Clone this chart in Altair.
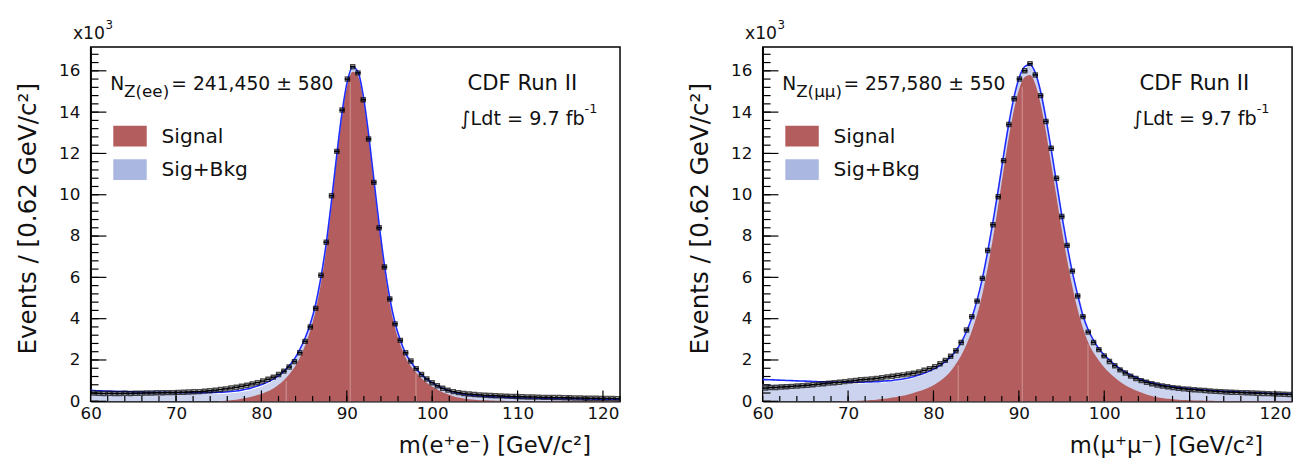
import altair as alt
import pandas as pd

FONT = "DejaVu Sans"
INK = "#111111"
W, H = 538, 360
YMAX = 17.15
BIN = 0.62

# bin centres of the 100 mass bins (60-122 GeV, 0.62 GeV wide) and curve sampling points
centers = [round(60 + BIN * (i + 0.5), 3) for i in range(100)]
curve_x = [60.0] + centers + [122.0]

x_major = [60, 70, 80, 90, 100, 110, 120]
x_minor = [60 + 2 * k for k in range(32)]
y_major = [0, 2, 4, 6, 8, 10, 12, 14, 16]
y_minor = [round(0.4 * k, 1) for k in range(43)]
seams = [82.9, 90.4, 98.1]

# ---------------- Z -> ee (values in thousands of events / bin) ----------------
data_ee = [
    0.40, 0.39, 0.38, 0.39, 0.38, 0.38, 0.39, 0.38, 0.39, 0.39,
    0.40, 0.40, 0.41, 0.41, 0.42, 0.42, 0.43, 0.44, 0.45, 0.46,
    0.47, 0.49, 0.51, 0.54, 0.57, 0.60, 0.64, 0.68, 0.73, 0.78,
    0.84, 0.90, 0.98, 1.07, 1.17, 1.30, 1.46, 1.66, 1.92, 2.35,
    2.90, 3.60, 4.50, 6.10, 7.70, 9.95, 12.10, 14.10, 15.60, 16.20,
    15.90, 14.60, 12.70, 10.60, 8.40, 6.50, 4.95, 3.75, 2.95, 2.35,
    1.95, 1.58, 1.30, 1.08, 0.90, 0.75, 0.63, 0.54, 0.47, 0.42,
    0.38, 0.35, 0.33, 0.31, 0.29, 0.28, 0.27, 0.26, 0.25, 0.24,
    0.23, 0.22, 0.21, 0.21, 0.20, 0.19, 0.19, 0.18, 0.18, 0.17,
    0.17, 0.16, 0.16, 0.15, 0.15, 0.15, 0.14, 0.14, 0.14, 0.13,
]
fit_ee = [0.53,
    0.52, 0.51, 0.50, 0.49, 0.48, 0.47, 0.47, 0.46, 0.45, 0.45,
    0.44, 0.44, 0.43, 0.43, 0.43, 0.42, 0.42, 0.42, 0.42, 0.42,
    0.42, 0.42, 0.43, 0.43, 0.44, 0.45, 0.47, 0.50, 0.54, 0.59,
    0.66, 0.74, 0.83, 0.94, 1.07, 1.24, 1.45, 1.72, 2.05, 2.50,
    3.05, 3.75, 4.70, 6.00, 7.65, 9.70, 11.95, 14.00, 15.50, 16.20,
    15.95, 14.80, 12.95, 10.75, 8.55, 6.60, 5.00, 3.80, 2.95, 2.32,
    1.90, 1.56, 1.29, 1.07, 0.90, 0.75, 0.63, 0.53, 0.45, 0.39,
    0.34, 0.31, 0.28, 0.26, 0.24, 0.22, 0.21, 0.20, 0.19, 0.18,
    0.17, 0.16, 0.16, 0.15, 0.15, 0.14, 0.14, 0.13, 0.13, 0.12,
    0.12, 0.12, 0.11, 0.11, 0.11, 0.10, 0.10, 0.10, 0.10, 0.10,
    0.10]
sigbkg_ee = [0.40,
    0.40, 0.40, 0.39, 0.39, 0.38, 0.38, 0.38, 0.37, 0.37, 0.37,
    0.36, 0.36, 0.36, 0.36, 0.36, 0.35, 0.35, 0.35, 0.35, 0.35,
    0.35, 0.35, 0.35, 0.35, 0.36, 0.37, 0.39, 0.41, 0.45, 0.50,
    0.56, 0.64, 0.73, 0.85, 0.99, 1.17, 1.39, 1.66, 2.00, 2.45,
    3.00, 3.70, 4.65, 5.95, 7.60, 9.65, 11.90, 13.95, 15.45, 16.10,
    15.90, 14.75, 12.90, 10.70, 8.50, 6.55, 4.95, 3.75, 2.90, 2.27,
    1.85, 1.51, 1.24, 1.02, 0.85, 0.71, 0.59, 0.50, 0.42, 0.36,
    0.31, 0.27, 0.24, 0.22, 0.20, 0.18, 0.17, 0.16, 0.15, 0.14,
    0.13, 0.12, 0.12, 0.11, 0.11, 0.10, 0.10, 0.09, 0.09, 0.08,
    0.08, 0.08, 0.07, 0.07, 0.07, 0.06, 0.06, 0.06, 0.06, 0.06,
    0.06]
sig_ee = [0.0,
    0.0, 0.0, 0.0, 0.0, 0.0, 0.0, 0.0, 0.0, 0.0, 0.0,
    0.0, 0.0, 0.0, 0.0, 0.0, 0.0, 0.0, 0.0, 0.0, 0.0,
    0.0, 0.0, 0.0, 0.0, 0.01, 0.03, 0.05, 0.08, 0.12, 0.17,
    0.23, 0.30, 0.38, 0.48, 0.62, 0.80, 1.02, 1.30, 1.65, 2.10,
    2.70, 3.45, 4.40, 5.70, 7.35, 9.45, 11.75, 13.80, 15.30, 15.95,
    15.75, 14.60, 12.75, 10.55, 8.35, 6.40, 4.75, 3.55, 2.72, 2.12,
    1.70, 1.38, 1.12, 0.90, 0.72, 0.57, 0.44, 0.34, 0.25, 0.18,
    0.13, 0.095, 0.07, 0.055, 0.045, 0.035, 0.03, 0.025, 0.02, 0.02,
    0.02, 0.02, 0.015, 0.015, 0.015, 0.01, 0.01, 0.01, 0.01, 0.01,
    0.01, 0.01, 0.01, 0.01, 0.01, 0.01, 0.01, 0.01, 0.01, 0.01,
    0.01]

# ---------------- Z -> mumu ----------------
data_mm = [
    0.64, 0.66, 0.67, 0.69, 0.70, 0.72, 0.74, 0.76, 0.78, 0.80,
    0.83, 0.85, 0.88, 0.90, 0.92, 0.95, 0.98, 1.01, 1.04, 1.06,
    1.08, 1.11, 1.14, 1.18, 1.21, 1.25, 1.28, 1.32, 1.36, 1.42,
    1.50, 1.58, 1.68, 1.82, 1.98, 2.18, 2.45, 2.85, 3.45, 4.10,
    4.85, 5.95, 7.30, 8.55, 9.90, 11.65, 13.40, 14.65, 15.60, 16.00,
    16.35, 15.80, 14.80, 13.55, 12.25, 10.80, 8.95, 7.55, 6.30, 5.10,
    4.10, 3.35, 2.85, 2.50, 2.20, 1.93, 1.72, 1.52, 1.37, 1.22,
    1.10, 1.00, 0.92, 0.85, 0.79, 0.74, 0.70, 0.66, 0.63, 0.60,
    0.58, 0.56, 0.54, 0.52, 0.50, 0.48, 0.47, 0.45, 0.44, 0.43,
    0.42, 0.41, 0.40, 0.39, 0.38, 0.37, 0.36, 0.35, 0.34, 0.33,
]
fit_mm = [1.06,
    1.05, 1.04, 1.03, 1.02, 1.01, 1.00, 0.99, 0.98, 0.97, 0.96,
    0.95, 0.94, 0.93, 0.93, 0.92, 0.92, 0.92, 0.92, 0.92, 0.93,
    0.94, 0.95, 0.97, 0.99, 1.01, 1.04, 1.08, 1.13, 1.19, 1.27,
    1.36, 1.46, 1.58, 1.73, 1.92, 2.15, 2.45, 2.85, 3.38, 4.05,
    4.90, 5.95, 7.25, 8.70, 10.25, 11.90, 13.45, 14.75, 15.70, 16.20,
    16.30, 15.90, 15.00, 13.70, 12.20, 10.60, 9.00, 7.55, 6.25, 5.15,
    4.15, 3.45, 2.95, 2.55, 2.25, 2.00, 1.78, 1.58, 1.42, 1.28,
    1.16, 1.06, 0.97, 0.90, 0.84, 0.78, 0.74, 0.70, 0.67, 0.64,
    0.61, 0.59, 0.57, 0.55, 0.53, 0.51, 0.50, 0.48, 0.47, 0.46,
    0.44, 0.43, 0.42, 0.41, 0.40, 0.39, 0.38, 0.37, 0.36, 0.35,
    0.35]
sigbkg_mm = [0.84,
    0.84, 0.84, 0.84, 0.84, 0.84, 0.84, 0.84, 0.84, 0.84, 0.84,
    0.84, 0.84, 0.84, 0.84, 0.84, 0.84, 0.84, 0.84, 0.85, 0.86,
    0.87, 0.88, 0.90, 0.92, 0.94, 0.97, 1.01, 1.06, 1.12, 1.20,
    1.29, 1.39, 1.51, 1.66, 1.85, 2.08, 2.38, 2.78, 3.30, 3.97,
    4.80, 5.85, 7.15, 8.60, 10.15, 11.80, 13.35, 14.65, 15.60, 16.10,
    16.20, 15.80, 14.90, 13.60, 12.10, 10.50, 8.90, 7.45, 6.15, 5.05,
    4.10, 3.37, 2.87, 2.47, 2.17, 1.92, 1.70, 1.50, 1.34, 1.20,
    1.08, 0.98, 0.89, 0.82, 0.76, 0.70, 0.66, 0.62, 0.59, 0.56,
    0.53, 0.51, 0.49, 0.47, 0.45, 0.43, 0.42, 0.40, 0.39, 0.38,
    0.36, 0.35, 0.34, 0.33, 0.32, 0.31, 0.30, 0.29, 0.28, 0.27,
    0.27]
sig_mm = [0.0,
    0.0, 0.0, 0.0, 0.0, 0.0, 0.0, 0.0, 0.0, 0.0, 0.0,
    0.0, 0.0, 0.0, 0.0, 0.0, 0.01, 0.015, 0.02, 0.03, 0.04,
    0.06, 0.08, 0.11, 0.14, 0.18, 0.22, 0.27, 0.33, 0.40, 0.48,
    0.57, 0.68, 0.81, 0.98, 1.19, 1.46, 1.80, 2.22, 2.75, 3.40,
    4.20, 5.20, 6.45, 7.90, 9.50, 11.20, 12.80, 14.15, 15.15, 15.70,
    15.80, 15.35, 14.40, 13.05, 11.50, 9.90, 8.30, 6.85, 5.55, 4.45,
    3.55, 2.85, 2.35, 1.98, 1.65, 1.38, 1.15, 0.95, 0.78, 0.64,
    0.52, 0.42, 0.33, 0.26, 0.20, 0.155, 0.12, 0.095, 0.075, 0.06,
    0.05, 0.04, 0.035, 0.03, 0.025, 0.02, 0.02, 0.02, 0.02, 0.02,
    0.015, 0.015, 0.015, 0.01, 0.01, 0.01, 0.01, 0.01, 0.01, 0.01,
    0.01]

RED = "#b35d5e"
BLUEFILL = "#ccd3ee"
LEGBLUE = "#aab7e1"
LINE = "#1f2cff"

xs = alt.Scale(domain=[60, 122], nice=False, zero=False)
ys = alt.Scale(domain=[0, YMAX], nice=False, zero=True)


def txt(s, x, y, size, align="left", baseline="alphabetic"):
    return alt.Chart(pd.DataFrame({"t": [s]})).mark_text(
        text=s, font=FONT, fontSize=size, align=align, baseline=baseline, color=INK
    ).encode(x=alt.value(x), y=alt.value(y))


def swatch(x, y, w, h, color):
    return alt.Chart(pd.DataFrame({"a": [0]})).mark_rect(color=color).encode(
        x=alt.value(x), x2=alt.value(x + w), y=alt.value(y), y2=alt.value(y + h)
    )


def panel(dvals, fit, sb, sig, xtitle, nsub, ntext):
    pts = pd.DataFrame({"m": centers, "v": dvals})
    pts["lo"] = pts["m"] - BIN / 2
    pts["hi"] = pts["m"] + BIN / 2
    cur = pd.DataFrame({"m": curve_x, "fit": fit, "sb": sb, "sig": sig})
    seam_df = pd.DataFrame({
        "m": seams,
        "top": [sig[1 + min(range(100), key=lambda i: abs(centers[i] - s))] * 0.97 for s in seams],
    })

    xax = alt.Axis(values=x_major, ticks=False, grid=False, domainColor="black", domainWidth=1.5,
                   labelFontSize=17, labelPadding=5, labelFlush=False, labelOverlap=False,
                   title=xtitle, titleFontSize=23, titleX=W - 30, titleY=52,
                   titleAlign="right", titleBaseline="alphabetic")
    yax = alt.Axis(values=y_major, ticks=False, grid=False, domainColor="black", domainWidth=1.5,
                   labelFontSize=17, labelPadding=11, labelOverlap=False,
                   title="Events / [0.62 GeV/c²]", titleFontSize=25, titleAngle=270,
                   titleX=-64, titleY=174, titleAlign="center", titleBaseline="middle")

    X = alt.X("m:Q", scale=xs, axis=xax)
    base = alt.Chart(cur)
    sb_area = base.mark_area(color=BLUEFILL, interpolate="monotone").encode(
        x=X, y=alt.Y("sb:Q", scale=ys, axis=yax))
    sig_area = base.mark_area(color=RED, interpolate="monotone").encode(
        x=X, y=alt.Y("sig:Q", scale=ys, axis=yax))
    seam = alt.Chart(seam_df).mark_rule(color="#d9a3a3", strokeWidth=1, opacity=0.8).encode(
        x=X, y=alt.Y("top:Q", scale=ys, axis=yax), y2=alt.datum(0))
    fit_line = base.mark_line(color=LINE, strokeWidth=1.6, interpolate="monotone").encode(
        x=X, y=alt.Y("fit:Q", scale=ys, axis=yax))
    bars = alt.Chart(pts).mark_rule(color="black", strokeWidth=1.6).encode(
        x=alt.X("lo:Q", scale=xs, axis=xax), x2="hi:Q", y=alt.Y("v:Q", scale=ys, axis=yax))
    marks = alt.Chart(pts).mark_point(shape="square", filled=False, size=16, stroke="black",
                                      strokeWidth=1.5).encode(
        x=X, y=alt.Y("v:Q", scale=ys, axis=yax))

    ymaj = alt.Chart(pd.DataFrame({"t": y_major})).mark_rule(color="black", strokeWidth=1.2).encode(
        y=alt.Y("t:Q", scale=ys, axis=yax), x=alt.value(0), x2=alt.value(16))
    ymin = alt.Chart(pd.DataFrame({"t": y_minor})).mark_rule(color="black", strokeWidth=1.2).encode(
        y=alt.Y("t:Q", scale=ys, axis=yax), x=alt.value(0), x2=alt.value(8))
    xmaj = alt.Chart(pd.DataFrame({"t": x_major})).mark_rule(color="black", strokeWidth=1.2).encode(
        x=alt.X("t:Q", scale=xs, axis=xax), y=alt.value(H), y2=alt.value(H - 11))
    xmin = alt.Chart(pd.DataFrame({"t": x_minor})).mark_rule(color="black", strokeWidth=1.2).encode(
        x=alt.X("t:Q", scale=xs, axis=xax), y=alt.value(H), y2=alt.value(H - 5.5))

    annotations = [
        txt("x10", -18, -8, 17.5),
        txt("3", 15, -18, 12),
        txt("N", 20, 44, 19),
        txt(nsub, 34, 51, 17),
        txt(ntext, 82, 44, 19),
        swatch(23, 80, 34, 21, RED),
        swatch(23, 114, 34, 21, LEGBLUE),
        txt("Signal", 72, 91, 20.5, baseline="middle"),
        txt("Sig+Bkg", 72, 125, 20.5, baseline="middle"),
        txt("CDF Run II", 383, 44, 21.5),
        txt("∫Ldt = 9.7 fb", 376, 79, 19.5),
        txt("-1", 502, 67, 13),
    ]
    return alt.layer(sb_area, sig_area, seam, fit_line, bars, marks,
                     ymaj, ymin, xmaj, xmin, *annotations).properties(width=W, height=H)


left = panel(data_ee, fit_ee, sigbkg_ee, sig_ee, "m(e⁺e⁻) [GeV/c²]", "Z(ee)", "= 241,450 ± 580")
right = panel(data_mm, fit_mm, sigbkg_mm, sig_mm, "m(μ⁺μ⁻) [GeV/c²]", "Z(μμ)", "= 257,580 ± 550")

chart = alt.hconcat(left, right, spacing=64).properties(
    padding={"left": 7, "top": 7, "right": 0, "bottom": 0}
).configure_view(stroke="black", strokeWidth=1.5).configure_axis(
    labelFont=FONT, titleFont=FONT, labelColor=INK, titleColor=INK, titleFontWeight="normal"
)

chart.save("out.html", embed_options={"renderer": "svg", "actions": False})
